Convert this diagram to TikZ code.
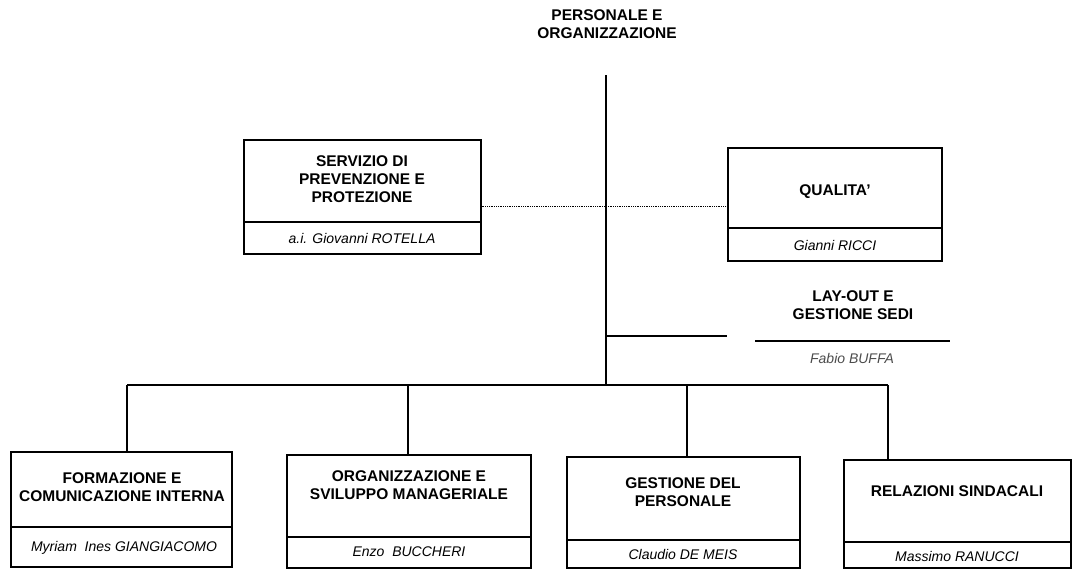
\documentclass[tikz,border=0pt]{standalone}
\usepackage{fontspec}
\setmainfont{Liberation Sans}
\begin{document}
\begin{tikzpicture}[x=1pt,y=-1pt,
  line width=1.3pt,
  box/.style={draw, rectangle, inner sep=0pt},
  ttl/.style={font=\fontsize{15.5}{18}\selectfont\bfseries, align=center, inner sep=0pt},
  nm/.style={font=\fontsize{14}{16}\selectfont\itshape, inner sep=0pt},
  dot/.style={line width=0.8pt, densely dotted}
]
\useasboundingbox (0,0) rectangle (1079,570);
% top
\node[ttl] (top) at (607,24) {PERSONALE E\\ORGANIZZAZIONE};
\coordinate (vtop) at (606,75);
\coordinate (vbot) at (606,385);
\draw (vtop) -- (vbot);
% SPP
\node[box, minimum width=237, minimum height=114] (spp) at (362.5,197) {};
\coordinate (sppdl) at (244,222); \coordinate (sppdr) at (481,222);
\draw (sppdl) -- (sppdr);
\node[ttl] (sppt) at (362,179) {SERVIZIO DI\\PREVENZIONE E\\PROTEZIONE};
\node[nm] (sppn) at (362,238) {a.i. Giovanni ROTELLA};
% QUALITA
\node[box, minimum width=214, minimum height=113] (qua) at (835,204.5) {};
\coordinate (quadl) at (728,228); \coordinate (quadr) at (942,228);
\draw (quadl) -- (quadr);
\node[ttl] (quat) at (835,192) {QUALITA'};
\node[nm] (quan) at (835,245) {Gianni RICCI};
% dotted links
\coordinate (vmid) at (606,206);
\draw[dot] (spp.east |- vmid) -- (vmid);
\draw[dot] (vmid) -- (qua.west |- vmid);
% lay-out
\coordinate (lay) at (606,336);
\coordinate (layend) at (727,336);
\draw (lay) -- (layend);
\node[ttl] (layt) at (853,305) {LAY-OUT E\\GESTIONE SEDI};
\coordinate (layl) at (755,341); \coordinate (layr) at (950,341);
\draw (layl) -- (layr);
\node[nm, text=black!70] (layn) at (852,358) {Fabio BUFFA};
% bus
\coordinate (b1) at (127,385); \coordinate (b2) at (408,385);
\coordinate (b3) at (687,385); \coordinate (b4) at (888,385);
\draw (b1) -- (b4);
% bottom boxes
\node[box, minimum width=221, minimum height=115] (f1) at (121.5,509.5) {};
\draw (f1.west |- 0,527) -- (f1.east |- 0,527);
\node[ttl] (f1t) at (122,487) {FORMAZIONE E\\COMUNICAZIONE INTERNA};
\node[nm] (f1n) at (124,548) {Myriam\ \ Ines GIANGIACOMO};
\node[box, minimum width=244, minimum height=113] (f2) at (409,511.5) {};
\draw (f2.west |- 0,537) -- (f2.east |- 0,537);
\node[ttl] (f2t) at (409,485) {ORGANIZZAZIONE E\\SVILUPPO MANAGERIALE};
\node[nm] (f2n) at (409,552) {Enzo\ \ BUCCHERI};
\node[box, minimum width=233, minimum height=111] (f3) at (683.5,512.5) {};
\draw (f3.west |- 0,540) -- (f3.east |- 0,540);
\node[ttl] (f3t) at (683,492) {GESTIONE DEL\\PERSONALE};
\node[nm] (f3n) at (683,554) {Claudio DE MEIS};
\node[box, minimum width=227, minimum height=108] (f4) at (957.5,514) {};
\draw (f4.west |- 0,542) -- (f4.east |- 0,542);
\node[ttl] (f4t) at (957,491) {RELAZIONI SINDACALI};
\node[nm] (f4n) at (957,556) {Massimo RANUCCI};
% drops
\draw (b1) -- (b1 |- f1.north);
\draw (b2) -- (b2 |- f2.north);
\draw (b3) -- (b3 |- f3.north);
\draw (b4) -- (b4 |- f4.north);
\end{tikzpicture}
\end{document}
